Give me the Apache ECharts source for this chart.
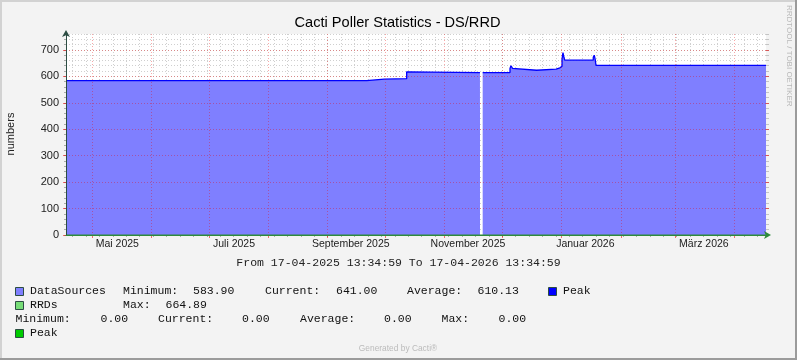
<!DOCTYPE html>
<html><head><meta charset="utf-8">
<script src="https://cdn.jsdelivr.net/npm/echarts@6/dist/echarts.min.js"></script>
<style>
html,body{margin:0;padding:0;background:#F3F3F3;}
#c{width:797px;height:360px;}
</style></head><body><div id="c"></div>
<script>
// ---------- data ----------
const startTime = '2025-04-17T13:34:59';
const endTime   = '2026-04-17T13:34:59';

const dataSourcesDates = [
  '2025-04-17T13:34:59','2025-09-21T09:00','2025-09-30T12:00','2025-10-01T00:00',
  '2025-10-12T05:00','2025-10-13T00:00','2025-11-19T10:00','2025-11-19T11:00',
  '2025-11-20T20:00','2025-12-05T02:00','2025-12-05T14:00','2025-12-06T10:00',
  '2025-12-06T20:00','2025-12-18T23:00','2025-12-29T02:00','2025-12-31T03:00',
  '2026-01-01T05:00','2026-01-01T17:00','2026-01-02T05:00','2026-01-02T14:00',
  '2026-01-17T12:00','2026-01-18T00:00','2026-01-18T12:00','2026-01-18T22:00',
  '2026-04-17T13:34:59'
];
const dataSourcesValues = [
  584, 589, 596, 591,
  617, 614, 614, null,
  614, 630, 640, 630,
  623, 627, 632, 638,
  665, 690, 672, 661,
  672, 680, 664, 641,
  641
];
const rrdsDates  = ['2025-04-17T13:34:59', '2026-04-17T13:34:59'];
const rrdsValues = [0, 0];

const yTickLabels = [0, 100, 200, 300, 400, 500, 600, 700];
const xTickLabels = ['Mai 2025','Juli 2025','September 2025','November 2025','Januar 2026','März 2026'];
const xTickLabelDates = ['2025-05-14T07:35','2025-07-14T04:00','2025-09-13T01:35','2025-11-13T04:00','2026-01-13T08:45','2026-03-16T04:00'];
const monthStartDates = ['2025-05-01','2025-06-01','2025-07-01','2025-08-01','2025-09-01','2025-10-01',
  '2025-11-01','2025-12-01','2026-01-01','2026-02-01','2026-03-01','2026-04-01'];

const statNames = ['Minimum:', 'Current:', 'Average:', 'Max:'];
const dataSourcesStats = ['583.90', '641.00', '610.13', '664.89'];
const rrdsStats = ['0.00', '0.00', '0.00', '0.00'];

// ---------- helpers ----------
const ts = s => Date.parse((s.indexOf('T') < 0 ? s + 'T00:00:00' : s) + 'Z');
const DAY = 86400000;
const tMin = ts(startTime), tMax = ts(endTime);
const weekTs = [];
for (let t = ts('2025-04-21'); t <= tMax; t += 7 * DAY) weekTs.push(t);
const monthTs = monthStartDates.map(ts);
const labelTs = xTickLabelDates.map(ts);
const yMinorTicks = [];
for (let v = 0; v <= 760; v += 20) yMinorTicks.push(v);

const dsData = dataSourcesDates.map((d, i) => [ts(d), dataSourcesValues[i]]);
const rrdsData = rrdsDates.map((d, i) => [ts(d), rrdsValues[i]]);

const AXIS = '#2C4D43';
const MINOR = '#CFCFCF';
const MAJOR = 'rgba(235,0,0,0.34)';
const MAJOR_TICK = 'rgba(235,0,0,0.55)';
const SANS = '"Liberation Sans", Arial, sans-serif';
const MONO = '"Liberation Mono", "Courier New", monospace';

const chart = echarts.init(document.getElementById('c'), null, {renderer: 'canvas'});

function txt(x, y, text, font, fill, align, rot) {
  return {type: 'text', x: x, y: y, rotation: rot || 0, silent: true, z: 10,
    style: {text: text, font: font, fill: fill, textAlign: align || 'left', align: align || 'left',
            textVerticalAlign: 'middle', verticalAlign: 'middle'}};
}
function box(x, y, color) {
  return {type: 'rect', silent: true, z: 10, shape: {x: x, y: y, width: 8, height: 8},
    style: {fill: color, stroke: AXIS, lineWidth: 1}};
}

const LF = '11.5px ' + MONO;
const graphics = [
  {type: 'rect', silent: true, shape: {x: 0, y: 0, width: 797, height: 2}, style: {fill: '#D2D2D2'}},
  {type: 'rect', silent: true, shape: {x: 0, y: 0, width: 2, height: 360}, style: {fill: '#D2D2D2'}},
  {type: 'rect', silent: true, shape: {x: 795, y: 0, width: 2, height: 360}, style: {fill: '#9B9B9B'}},
  {type: 'rect', silent: true, shape: {x: 0, y: 358, width: 797, height: 2}, style: {fill: '#9B9B9B'}},
  txt(397.5, 22.5, 'Cacti Poller Statistics - DS/RRD', '14.6px ' + SANS, '#000', 'center'),
  txt(11, 134, 'numbers', '11px ' + SANS, '#222', 'center', Math.PI / 2),
  txt(789, 5, 'RRDTOOL / TOBI OETIKER', '8px ' + SANS, '#B8B8B8', 'left', -Math.PI / 2),
  txt(398.5, 263, 'From 17-04-2025 13:34:59 To 17-04-2026 13:34:59', LF, '#222', 'center'),
  // row 1
  box(15.5, 287.5, '#7F7FFF'),
  txt(30, 291, 'DataSources', LF, '#111'),
  txt(123, 291, statNames[0], LF, '#111'),
  txt(193, 291, dataSourcesStats[0], LF, '#111'),
  txt(265, 291, statNames[1], LF, '#111'),
  txt(336, 291, dataSourcesStats[1], LF, '#111'),
  txt(407, 291, statNames[2], LF, '#111'),
  txt(477.5, 291, dataSourcesStats[2], LF, '#111'),
  box(548.5, 287.5, '#0000FF'),
  txt(563, 291, 'Peak', LF, '#111'),
  // row 2
  box(15.5, 301.5, '#77DD77'),
  txt(30, 305, 'RRDs', LF, '#111'),
  txt(123, 305, statNames[3], LF, '#111'),
  txt(165.5, 305, dataSourcesStats[3], LF, '#111'),
  // row 3
  txt(15.5, 319, statNames[0], LF, '#111'),
  txt(100.5, 319, rrdsStats[0], LF, '#111'),
  txt(158, 319, statNames[1], LF, '#111'),
  txt(242, 319, rrdsStats[1], LF, '#111'),
  txt(300, 319, statNames[2], LF, '#111'),
  txt(384, 319, rrdsStats[2], LF, '#111'),
  txt(441.5, 319, statNames[3], LF, '#111'),
  txt(498.5, 319, rrdsStats[3], LF, '#111'),
  // row 4
  box(15.5, 329.5, '#00CC00'),
  txt(30, 333, 'Peak', LF, '#111'),
  txt(398, 349, 'Generated by Cacti®', '8.4px ' + SANS, '#BBBBBB', 'center')
];

const baseX = {type: 'value', min: tMin, max: tMax, gridIndex: 0, position: 'bottom'};
const baseY = {type: 'value', min: 0, max: 760, gridIndex: 0, position: 'left'};

chart.setOption({
  animation: false,
  backgroundColor: '#F3F3F3',
  grid: {left: 66, top: 34, width: 700, height: 201, show: true, backgroundColor: '#FFFFFF',
         borderWidth: 0, containLabel: false, outerBoundsMode: 'none'},
  xAxis: [
    Object.assign({}, baseX, {
      z: 0,
      axisLine: {show: false, onZero: false},
      axisLabel: {show: false},
      axisTick: {show: true, customValues: weekTs, length: 2, lineStyle: {color: '#AAAAAA'}},
      splitLine: {show: true, lineStyle: {color: MINOR, type: [1, 2], width: 1}}
    }),
    Object.assign({}, baseX, {
      z: 3,
      axisLine: {show: false, onZero: false},
      axisLabel: {show: false},
      axisTick: {show: true, customValues: monthTs, length: 3, lineStyle: {color: MAJOR_TICK}},
      splitLine: {show: true, lineStyle: {color: MAJOR, type: [1, 2], width: 1}}
    }),
    Object.assign({}, baseX, {
      z: 4,
      axisLine: {show: true, onZero: false, symbol: ['none', 'arrow'], symbolSize: [6, 7], symbolOffset: [0, 5],
                 lineStyle: {color: '#2E8A3C', width: 1}},
      axisTick: {show: false},
      splitLine: {show: false},
      axisLabel: {show: true, customValues: labelTs, margin: 4, color: '#222', fontSize: 10.5, fontFamily: SANS,
        formatter: v => {
          let best = 0, bd = Infinity;
          labelTs.forEach((t, i) => { const d = Math.abs(t - v); if (d < bd) { bd = d; best = i; } });
          return xTickLabels[best];
        }}
    })
  ],
  yAxis: [
    Object.assign({}, baseY, {
      z: 0,
      axisLine: {show: false, onZero: false},
      axisLabel: {show: false},
      axisTick: {show: true, customValues: yMinorTicks, length: 2, lineStyle: {color: '#AAAAAA'}},
      splitLine: {show: true, lineStyle: {color: MINOR, type: [1, 2], width: 1}}
    }),
    Object.assign({}, baseY, {
      z: 3,
      axisLine: {show: true, onZero: false, symbol: ['none', 'arrow'], symbolSize: [6, 7], symbolOffset: [0, 4],
                 lineStyle: {color: AXIS, width: 1}},
      axisTick: {show: true, customValues: yTickLabels, length: 3, lineStyle: {color: MAJOR_TICK}},
      axisLabel: {show: true, customValues: yTickLabels, margin: 7, color: '#222', fontSize: 11, fontFamily: SANS},
      splitLine: {show: true, lineStyle: {color: MAJOR, type: [1, 2], width: 1}}
    }),
    Object.assign({}, baseY, {
      position: 'right', z: 0,
      axisLine: {show: false, onZero: false},
      axisLabel: {show: false},
      axisTick: {show: true, customValues: yMinorTicks, length: 3, lineStyle: {color: '#C4C4C4'}},
      splitLine: {show: false}
    }),
    Object.assign({}, baseY, {
      position: 'right', z: 1,
      axisLine: {show: false, onZero: false},
      axisLabel: {show: false},
      axisTick: {show: true, customValues: yTickLabels, length: 3, lineStyle: {color: MAJOR_TICK}},
      splitLine: {show: false}
    })
  ],
  series: [
    {
      name: 'DataSources', type: 'line', xAxisIndex: 0, yAxisIndex: 0,
      data: dsData, step: 'end', showSymbol: false, symbol: 'none', connectNulls: false,
      lineStyle: {color: '#0000FF', width: 1.3},
      areaStyle: {color: '#7F7FFF', opacity: 1},
      z: 2
    },
    {
      name: 'RRDs', type: 'line', xAxisIndex: 0, yAxisIndex: 0,
      data: rrdsData, showSymbol: false, symbol: 'none',
      lineStyle: {color: '#2E8A3C', width: 1},
      z: 2
    }
  ],
  graphic: graphics
});
</script></body></html>
